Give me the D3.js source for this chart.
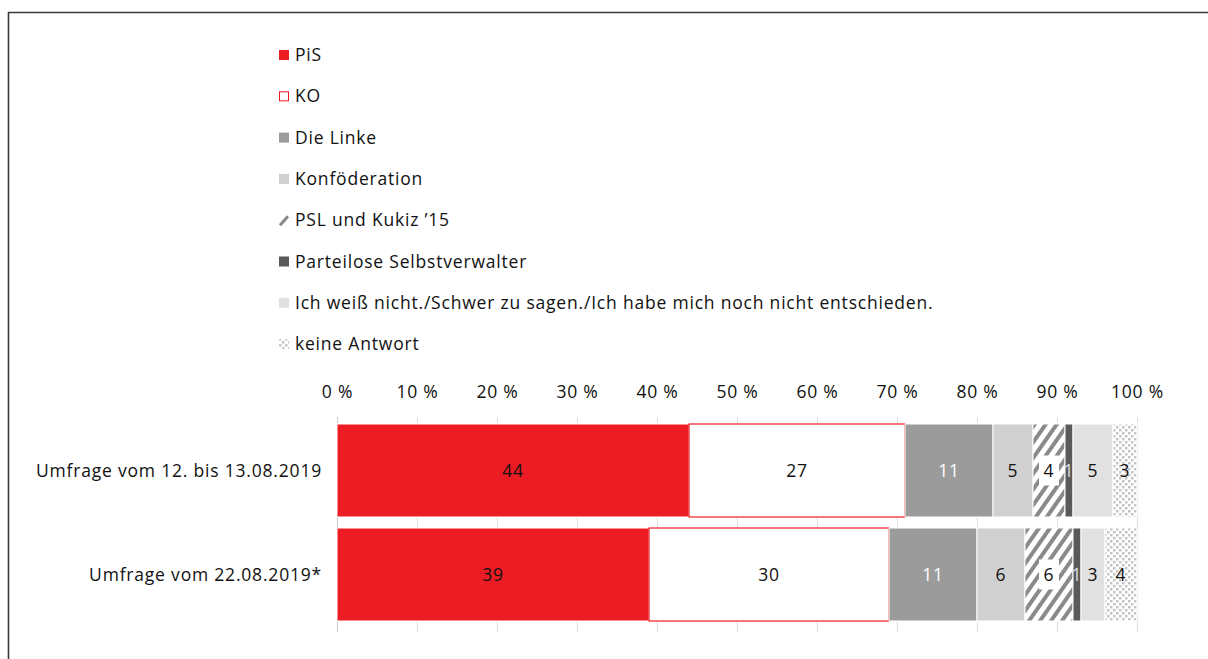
<!DOCTYPE html>
<html>
<head>
<meta charset="utf-8">
<script src="https://cdn.jsdelivr.net/npm/d3@7"></script>
<style>
  body { margin: 0; background: #fff; overflow: hidden; }
  svg { display: block; font-family: "Open Sans", "Noto Sans", sans-serif; letter-spacing: 0.8px; }
</style>
</head>
<body>
<div id="chart"><svg></svg></div>
<script>
// data
var categories = ["Umfrage vom 12. bis 13.08.2019", "Umfrage vom 22.08.2019*"];
var parties = ["PiS", "KO", "Die Linke", "Konföderation", "PSL und Kukiz \u201915",
    "Parteilose Selbstverwalter",
    "Ich weiß nicht./Schwer zu sagen./Ich habe mich noch nicht entschieden.",
    "keine Antwort"];
var survey1 = [44, 27, 11, 5, 4, 1, 5, 3];
var survey2 = [39, 30, 11, 6, 6, 1, 3, 4];
var tickValues = [0, 10, 20, 30, 40, 50, 60, 70, 80, 90, 100];

var width = 1208,
    height = 659,
    fontSize = 17.5;

var fills = ["#ed1c24", "#ffffff", "#9b9b9b", "#d0d0d0", "url(#stripes)", "#5a5a5a", "#e1e1e1", "url(#dots)"];
var labelColors = ["#111", "#111", "#fff", "#111", "#111", "#ddd", "#111", "#111"];

var svg = d3.select("#chart").select("svg")
    .attr("width", width)
    .attr("height", height);

var defs = svg.append("defs");
var stripes = defs.append("pattern")
    .attr("id", "stripes")
    .attr("patternUnits", "userSpaceOnUse")
    .attr("width", 9).attr("height", 9)
    .attr("patternTransform", "rotate(35)");
stripes.append("rect").attr("width", 9).attr("height", 9).attr("fill", "#fff");
stripes.append("rect").attr("width", 4).attr("height", 9).attr("fill", "#8a8a8a");

var dots = defs.append("pattern")
    .attr("id", "dots")
    .attr("patternUnits", "userSpaceOnUse")
    .attr("width", 6).attr("height", 6);
dots.append("rect").attr("width", 6).attr("height", 6).attr("fill", "#fff");
dots.append("rect").attr("x", 0).attr("y", 0).attr("width", 2.5).attr("height", 2.5).attr("fill", "#c4c4c4");
dots.append("rect").attr("x", 3).attr("y", 3).attr("width", 2.5).attr("height", 2.5).attr("fill", "#c4c4c4");

// frame: only top and left edges are in view
svg.append("path")
    .attr("d", "M8.5," + height + "V12.5H" + width)
    .attr("fill", "none")
    .attr("stroke", "#3a3a3a")
    .attr("stroke-width", 1.6);

// legend
var legend = svg.append("g").attr("transform", "translate(279,55)");
var item = legend.selectAll("g")
    .data(parties)
    .enter().append("g")
    .attr("transform", function(d, i) { return "translate(0," + (i * 41.3) + ")"; });

item.append("rect")
    .attr("x", function(d, i) { return i == 1 ? 0.5 : 0; })
    .attr("y", function(d, i) { return i == 1 ? -4.5 : -5; })
    .attr("width", function(d, i) { return i == 1 ? 9 : 10; })
    .attr("height", function(d, i) { return i == 1 ? 9 : 10; })
    .attr("fill", function(d, i) { return i == 4 ? "none" : fills[i]; })
    .attr("stroke", function(d, i) { return i == 1 ? "#ed1c24" : "none"; });

// PSL legend marker is a small slash
item.filter(function(d, i) { return i == 4; })
    .append("line")
    .attr("x1", 1).attr("y1", 5).attr("x2", 9).attr("y2", -4)
    .attr("stroke", "#8a8a8a").attr("stroke-width", 3);

item.append("text")
    .attr("x", 16)
    .attr("dy", "0.35em")
    .attr("font-size", fontSize)
    .attr("fill", "#111")
    .text(function(d) { return d; });

// scales
var x = d3.scaleLinear().domain([0, 100]).range([337, 1137]);
var y = d3.scaleBand().domain(categories).range([424, 621]).paddingInner(0.106).paddingOuter(0);

// gridlines
svg.append("g").selectAll("line")
    .data(tickValues)
    .enter().append("line")
    .attr("x1", function(d) { return x(d) + 0.5; })
    .attr("x2", function(d) { return x(d) + 0.5; })
    .attr("y1", 417).attr("y2", 632)
    .attr("stroke", function(d) { return d == 0 ? "#cfcfcf" : "#e2e2e2"; })
    .attr("stroke-width", 1.2);

// axis labels on top
var axis = d3.axisTop(x)
    .tickValues(tickValues)
    .tickSize(0)
    .tickPadding(0)
    .tickFormat(function(d) { return d + " %"; });
var axisG = svg.append("g")
    .attr("transform", "translate(0,398)")
    .call(axis);
axisG.select(".domain").remove();
axisG.selectAll("text")
    .attr("font-family", "\"Open Sans\", sans-serif")
    .attr("font-size", fontSize)
    .attr("fill", "#111")
    .attr("dy", 0);

// stack
var rows = [survey1, survey2].map(function(vals, r) {
    var acc = 0;
    return vals.map(function(v, i) {
        var seg = { cat: categories[r], i: i, v: v, x0: acc, x1: acc + v };
        acc += v;
        return seg;
    });
});

var rowG = svg.append("g").selectAll("g")
    .data(rows)
    .enter().append("g");

rowG.selectAll("rect")
    .data(function(d) { return d; })
    .enter().append("rect")
    .attr("x", function(d) { return x(d.x0); })
    .attr("y", function(d) { return y(d.cat); })
    .attr("width", function(d) { return x(d.x1) - x(d.x0); })
    .attr("height", y.bandwidth())
    .attr("fill", function(d) { return fills[d.i]; })
    .attr("stroke", function(d) { return d.i == 1 ? "#ed1c24" : "#fff"; })
    .attr("stroke-width", function(d) { return d.i == 1 ? 1.2 : 1; });

// white boxes behind PSL labels
rowG.selectAll("rect.lbg")
    .data(function(d) { return d.filter(function(s) { return s.i == 4; }); })
    .enter().append("rect")
    .attr("class", "lbg")
    .attr("x", function(d) { return x((d.x0 + d.x1) / 2) - 10; })
    .attr("y", function(d) { return y(d.cat) + y.bandwidth() / 2 - 15; })
    .attr("width", 20)
    .attr("height", 30)
    .attr("fill", "#fff");

rowG.selectAll("text")
    .data(function(d) { return d; })
    .enter().append("text")
    .attr("x", function(d) { return x((d.x0 + d.x1) / 2); })
    .attr("y", function(d) { return y(d.cat) + y.bandwidth() / 2; })
    .attr("dy", "0.35em")
    .attr("text-anchor", "middle")
    .attr("font-size", fontSize)
    .attr("fill", function(d) { return labelColors[d.i]; })
    .text(function(d) { return d.v; });

// category labels
svg.append("g").selectAll("text")
    .data(categories)
    .enter().append("text")
    .attr("x", 322)
    .attr("y", function(d) { return y(d) + y.bandwidth() / 2; })
    .attr("dy", "0.35em")
    .attr("text-anchor", "end")
    .attr("font-size", fontSize)
    .attr("fill", "#111")
    .text(function(d) { return d; });
</script>
</body>
</html>
